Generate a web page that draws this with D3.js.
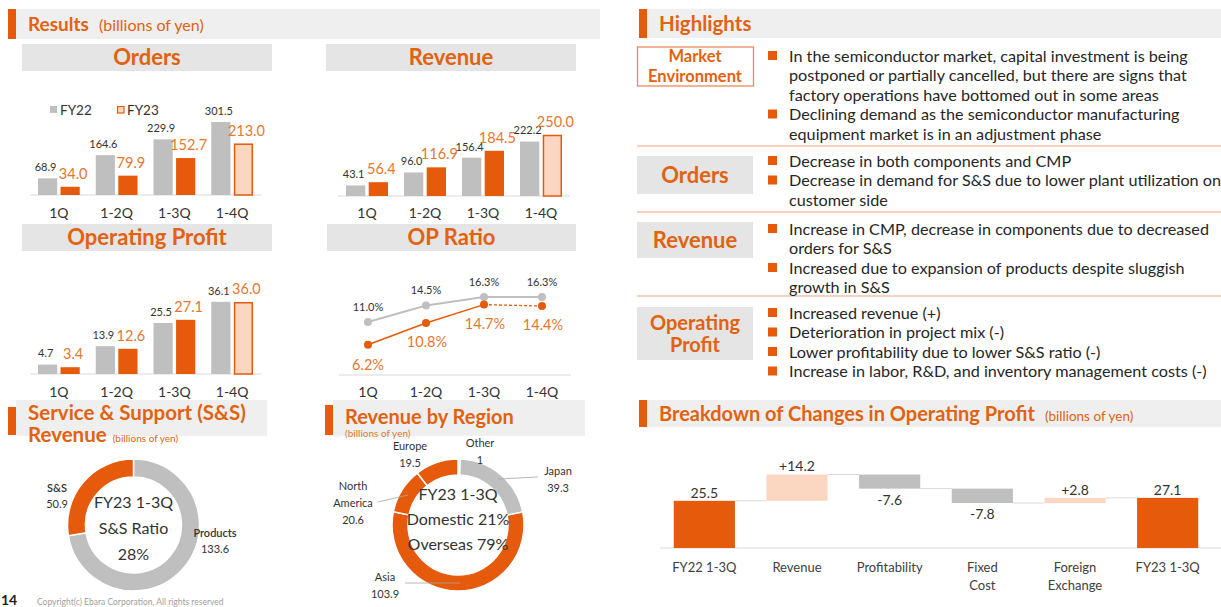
<!DOCTYPE html>
<html>
<head>
<meta charset="utf-8">
<title>Results</title>
<script src="https://cdn.jsdelivr.net/npm/d3@7"></script>
<style>
    body { margin: 0; background: #fff; }
    svg text { font-family: Lato, "Noto Sans", sans-serif; }
</style>
</head>
<body>
<svg id="chart" width="1221" height="607"></svg>
<script>
    // ---- data ----
    var quarters = ["1Q", "1-2Q", "1-3Q", "1-4Q"];
    var ordersFY22 = [68.9, 164.6, 229.9, 301.5];
    var ordersFY23 = [34.0, 79.9, 152.7, 213.0];
    var revenueFY22 = [43.1, 96.0, 156.4, 222.2];
    var revenueFY23 = [56.4, 116.9, 184.5, 250.0];
    var opFY22 = [4.7, 13.9, 25.5, 36.1];
    var opFY23 = [3.4, 12.6, 27.1, 36.0];
    var ratioFY22 = [11.0, 14.5, 16.3, 16.3];
    var ratioFY23 = [6.2, 10.8, 14.7, 14.4];
    var forecastIndex = 3;

    var ssNames = ["Products", "S&S"];
    var ssValues = [133.6, 50.9];

    var regionNames = ["Other", "Japan", "Asia", "North America", "Europe"];
    var regionValues = [1, 39.3, 103.9, 20.6, 19.5];

    var wfLabels = [["FY22 1-3Q"], ["Revenue"], ["Profitability"], ["Fixed", "Cost"], ["Foreign", "Exchange"], ["FY23 1-3Q"]];
    var wfValues = [25.5, 14.2, -7.6, -7.8, 2.8, 27.1];
    var wfKinds = ["total", "delta", "delta", "delta", "delta", "total"];

    var hlTitles = [["Market", "Environment"], ["Orders"], ["Revenue"], ["Operating", "Profit"]];
    var hlBullets = [
        [["In the semiconductor market, capital investment is being", "postponed or partially cancelled, but there are signs that", "factory operations have bottomed out in some areas"],
         ["Declining demand as the semiconductor manufacturing", "equipment market is in an adjustment phase"]],
        [["Decrease in both components and CMP"],
         ["Decrease in demand for S&S due to lower plant utilization on", "customer side"]],
        [["Increase in CMP, decrease in components due to decreased", "orders for S&S"],
         ["Increased due to expansion of products despite sluggish", "growth in S&S"]],
        [["Increased revenue (+)"], ["Deterioration in project mix (-)"], ["Lower profitability due to lower S&S ratio (-)"], ["Increase in labor, R&D, and inventory management costs (-)"]]
    ];

    // ---- colours ----
    var ORANGE = "#e65a0c";
    var ORANGE_TXT = "#e2620f";
    var ORANGE_LBL = "#e57730";
    var GRAY = "#bfbfbf";
    var PEACH = "#fbd7c2";
    var BAND = "#efefef";
    var BOX = "#e5e5e5";
    var DARK = "#333333";

    var svg = d3.select("#chart");

    function SectionHeader(x, y, w, h, title, size, sub, subSize) {
        svg.append("rect").attr("x", x).attr("y", y).attr("width", w).attr("height", h).attr("fill", BAND);
        svg.append("rect").attr("x", x - 8).attr("y", y).attr("width", 8).attr("height", h).attr("fill", ORANGE);
        var t = svg.append("text").attr("x", x + 12).attr("y", y + h / 2).attr("dy", "0.35em")
            .attr("font-size", size).attr("font-weight", "bold").attr("fill", ORANGE_TXT);
        t.append("tspan").text(title);
        if (sub) {
            t.append("tspan").attr("font-size", subSize).attr("font-weight", "normal").attr("dx", 10).text(sub);
        }
        return t;
    }

    function TitleBox(x, y, w, h, title) {
        svg.append("rect").attr("x", x).attr("y", y).attr("width", w).attr("height", h).attr("fill", BOX);
        svg.append("text").attr("x", x + w / 2).attr("y", y + h / 2).attr("dy", "0.36em")
            .attr("text-anchor", "middle").attr("font-size", 22).attr("font-weight", "bold")
            .attr("fill", ORANGE_TXT).text(title);
    }

    function BottomAxis(x, yBase, pad) {
        var ag = svg.append("g").attr("transform", "translate(0," + yBase + ")")
            .call(d3.axisBottom(x).tickSize(0).tickPadding(pad));
        ag.select(".domain").attr("stroke", "#d9d9d9").attr("d", "M" + (x.range()[0]) + ",0H" + x.range()[1]);
        ag.selectAll("text").attr("font-size", 14).attr("fill", DARK).attr("font-family", "Lato, sans-serif");
    }

    function BarPanel(opt) {
        var x = d3.scaleBand().domain(quarters).range(opt.xr);
        var inner = d3.scaleBand().domain(["FY22", "FY23"]).range([8, x.bandwidth() - 8]).paddingInner(0.15);
        var y = d3.scaleLinear().domain(opt.yd).range(opt.yr);
        BottomAxis(x, opt.yr[0], opt.pad);

        var g = svg.append("g");
        quarters.forEach(function(q, i) {
            var gx = x(q) + inner("FY22"), ox = x(q) + inner("FY23"), bw = inner.bandwidth();
            g.append("rect").attr("x", gx).attr("y", y(opt.a[i])).attr("width", bw)
                .attr("height", y(0) - y(opt.a[i])).attr("fill", GRAY);
            var fc = i === forecastIndex;
            g.append("rect").attr("x", fc ? ox + 0.75 : ox).attr("y", y(opt.b[i]) + (fc ? 0.75 : 0))
                .attr("width", fc ? bw - 1.5 : bw).attr("height", y(0) - y(opt.b[i]) - (fc ? 0.75 : 0))
                .attr("fill", fc ? PEACH : ORANGE).attr("stroke", fc ? ORANGE : "none").attr("stroke-width", 1.5);
            g.append("text").attr("x", gx + bw / 2 - 2).attr("y", y(opt.a[i]) - 11).attr("dy", "0.35em")
                .attr("text-anchor", "middle").attr("font-size", 11).attr("fill", DARK)
                .text(opt.a[i].toFixed(1));
            g.append("text").attr("x", ox + bw / 2 + 3).attr("y", y(opt.b[i]) - 13).attr("dy", "0.35em")
                .attr("text-anchor", "middle").attr("font-size", 14.5).attr("fill", ORANGE_LBL)
                .text(opt.b[i].toFixed(1));
        });
    }

    // ---- section bands first so axis labels sit on top ----
    SectionHeader(16, 9, 584, 30, "Results", 19, "(billions of yen)", 16);

    svg.append("rect").attr("x", 16).attr("y", 400).attr("width", 251).attr("height", 36).attr("fill", BAND);
    svg.append("rect").attr("x", 8).attr("y", 407).attr("width", 8).attr("height", 28).attr("fill", ORANGE);
    svg.append("rect").attr("x", 333).attr("y", 400).attr("width", 252).attr("height", 36).attr("fill", BAND);
    svg.append("rect").attr("x", 325).attr("y", 405).attr("width", 8).attr("height", 30).attr("fill", ORANGE);

    // ---- Results ----
    TitleBox(22, 44, 250, 27, "Orders");
    TitleBox(326, 44, 250, 27, "Revenue");
    TitleBox(22, 224, 250, 27, "Operating Profit");
    TitleBox(327, 224, 249, 27, "OP Ratio");

    // legend
    svg.append("rect").attr("x", 50).attr("y", 106).attr("width", 7).attr("height", 7).attr("fill", GRAY);
    svg.append("text").attr("x", 60).attr("y", 110).attr("dy", "0.35em").attr("font-size", 13.5).attr("fill", DARK).text("FY22");
    svg.append("rect").attr("x", 117.5).attr("y", 106.5).attr("width", 6.5).attr("height", 6.5)
        .attr("fill", PEACH).attr("stroke", ORANGE).attr("stroke-width", 1.2);
    svg.append("text").attr("x", 127).attr("y", 110).attr("dy", "0.35em").attr("font-size", 13.5).attr("fill", DARK).text("FY23");

    BarPanel({ xr: [30, 261], yd: [0, 300], yr: [195, 122.4], pad: 13, a: ordersFY22, b: ordersFY23 });
    BarPanel({ xr: [338, 570], yd: [0, 300], yr: [196, 122.5], pad: 12, a: revenueFY22, b: revenueFY23 });
    BarPanel({ xr: [30, 261], yd: [0, 40], yr: [374, 294], pad: 13, a: opFY22, b: opFY23 });

    // OP ratio lines
    (function() {
        var x = d3.scaleBand().domain(quarters).range([339, 571]);
        var y = d3.scaleLinear().domain([0, 20]).range([374, 279.6]);
        BottomAxis(x, 375, 12);
        var cx = function(d, i) { return x(quarters[i]) + x.bandwidth() / 2; };
        var line = d3.line().x(function(d, i) { return cx(d, i); }).y(function(d) { return y(d); });

        svg.append("path").attr("d", line(ratioFY22)).attr("fill", "none").attr("stroke", GRAY).attr("stroke-width", 2);
        svg.append("path").attr("d", line(ratioFY23.slice(0, 3))).attr("fill", "none").attr("stroke", ORANGE).attr("stroke-width", 1.5);
        var dashed = d3.line().x(function(d, i) { return cx(d, i + 2); }).y(function(d) { return y(d); });
        svg.append("path").attr("d", dashed(ratioFY23.slice(2))).attr("fill", "none").attr("stroke", ORANGE)
            .attr("stroke-width", 1.3).attr("stroke-dasharray", "3,2");

        ratioFY22.forEach(function(v, i) {
            svg.append("circle").attr("cx", cx(v, i)).attr("cy", y(v)).attr("r", 4).attr("fill", GRAY);
            svg.append("text").attr("x", cx(v, i)).attr("y", y(v) - 15).attr("dy", "0.35em").attr("text-anchor", "middle")
                .attr("font-size", 11).attr("fill", DARK).text(v.toFixed(1) + "%");
        });
        ratioFY23.forEach(function(v, i) {
            svg.append("circle").attr("cx", cx(v, i)).attr("cy", y(v)).attr("r", 4).attr("fill", ORANGE);
            svg.append("text").attr("x", cx(v, i) + (i === 0 ? 0 : 1)).attr("y", y(v) + (i === 0 ? 20 : 19)).attr("dy", "0.35em")
                .attr("text-anchor", "middle").attr("font-size", 14.5).attr("fill", ORANGE_LBL).text(v.toFixed(1) + "%");
        });
    })();

    // ---- S&S donut ----
    svg.append("text").attr("x", 28).attr("y", 413).attr("dy", "0.35em").attr("font-size", 20.5).attr("font-weight", "bold")
        .attr("fill", ORANGE_TXT).text("Service & Support (S&S)");
    var ssT = svg.append("text").attr("x", 28).attr("y", 435).attr("dy", "0.35em").attr("font-size", 20.5).attr("font-weight", "bold")
        .attr("fill", ORANGE_TXT);
    ssT.append("tspan").text("Revenue");
    ssT.append("tspan").attr("dx", 6).attr("font-size", 10).attr("font-weight", "normal").text("(billions of yen)");

    var pie = d3.pie().sort(null).value(function(d) { return d; });
    (function() {
        var arc = d3.arc().innerRadius(48).outerRadius(66);
        var g = svg.append("g").attr("transform", "translate(133.5,525)");
        g.selectAll("path").data(pie(ssValues)).enter().append("path")
            .attr("d", arc).attr("fill", function(d, i) { return i === 1 ? ORANGE : GRAY; })
            .attr("stroke", "#fff").attr("stroke-width", 1.5);
        ["FY23 1-3Q", "S&S Ratio", Math.round(ssValues[1] / d3.sum(ssValues) * 100) + "%"].forEach(function(t, i) {
            g.append("text").attr("x", 0).attr("y", -23 + i * 26).attr("dy", "0.35em").attr("text-anchor", "middle")
                .attr("font-size", 16).attr("fill", DARK).text(t);
        });
        var lab = [[57, 488], [215, 533]];
        [1, 0].forEach(function(k, j) {
            var p = lab[j];
            svg.append("text").attr("x", p[0]).attr("y", p[1]).attr("dy", "0.35em").attr("text-anchor", "middle")
                .attr("font-size", 11).attr("font-weight", 600).attr("fill", DARK).text(ssNames[k]);
            svg.append("text").attr("x", p[0]).attr("y", p[1] + 16).attr("dy", "0.35em").attr("text-anchor", "middle")
                .attr("font-size", 11).attr("fill", DARK).text(ssValues[k].toFixed(1));
        });
    })();

    // ---- Revenue by Region donut ----
    svg.append("text").attr("x", 345).attr("y", 417).attr("dy", "0.35em").attr("font-size", 20).attr("font-weight", "bold")
        .attr("fill", ORANGE_TXT).text("Revenue by Region");
    svg.append("text").attr("x", 345).attr("y", 433).attr("dy", "0.35em").attr("font-size", 10)
        .attr("fill", ORANGE_LBL).text("(billions of yen)");
    (function() {
        var arc = d3.arc().innerRadius(50).outerRadius(66);
        var g = svg.append("g").attr("transform", "translate(458,525)");
        var arcs = pie(regionValues);
        g.selectAll("path").data(arcs).enter().append("path")
            .attr("d", arc).attr("fill", function(d, i) { return i <= 1 ? GRAY : ORANGE; })
            .attr("stroke", "#fff").attr("stroke-width", 1.5);
        ["FY23 1-3Q", "Domestic 21%", "Overseas 79%"].forEach(function(t, i) {
            g.append("text").attr("x", 0).attr("y", -31 + i * 25).attr("dy", "0.35em").attr("text-anchor", "middle")
                .attr("font-size", 16).attr("fill", DARK).text(t);
        });
        // label anchors (layout) and leader lines
        var anchors = [
            { lines: ["Other"], x: 480, y: 443 },
            { lines: ["Japan"], x: 558, y: 471, lead: [[538, 477], [498, 479]] },
            { lines: ["Asia"], x: 385, y: 577, lead: [[405, 583], [460, 583]] },
            { lines: ["North", "America"], x: 353, y: 486, lead: [[378, 502], [408, 495]] },
            { lines: ["Europe"], x: 410, y: 446 }
        ];
        anchors.forEach(function(a, i) {
            a.lines.concat([String(regionValues[i])]).forEach(function(t, k) {
                svg.append("text").attr("x", a.x).attr("y", a.y + k * 17).attr("dy", "0.35em").attr("text-anchor", "middle")
                    .attr("font-size", 11).attr("font-family", "DejaVu Sans, sans-serif").attr("fill", DARK).text(t);
            });
            if (a.lead) {
                svg.append("path").attr("d", d3.line()(a.lead)).attr("stroke", "#a6a6a6").attr("stroke-width", 0.8).attr("fill", "none");
            }
        });
    })();

    // footer
    svg.append("text").attr("x", 1).attr("y", 605).attr("font-size", 14).attr("font-weight", "bold")
        .attr("font-family", "Liberation Sans, sans-serif").attr("fill", "#222").text("14");
    svg.append("text").attr("x", 37).attr("y", 605).attr("font-size", 8.5).attr("fill", "#a0a0a0")
        .text("Copyright(c) Ebara Corporation, All rights reserved");

    // ---- Highlights ----
    SectionHeader(647, 9, 574, 29, "Highlights", 20.5);
    var rowBox = [[47, 86], [156, 194], [222, 258], [307, 360]];
    var rowFirst = [56, 161, 229, 313];
    var seps = [146, 212, 296];
    seps.forEach(function(s) {
        svg.append("line").attr("x1", 637).attr("x2", 1221).attr("y1", s).attr("y2", s)
            .attr("stroke", "#efa37c").attr("stroke-width", 1.2);
    });
    hlTitles.forEach(function(title, r) {
        var b = rowBox[r];
        svg.append("rect").attr("x", r === 0 ? 637.5 : 637).attr("y", b[0]).attr("width", 116).attr("height", b[1] - b[0])
            .attr("fill", r === 0 ? "#fff" : BOX).attr("stroke", r === 0 ? "#ec8a5c" : "none").attr("stroke-width", 1.3);
        var mid = (b[0] + b[1]) / 2, lh = r === 0 ? 20 : 22, fs = r === 0 ? 16.5 : (r === 3 ? 20 : 22);
        title.forEach(function(t, k) {
            svg.append("text").attr("x", 695).attr("y", mid + (k - (title.length - 1) / 2) * lh).attr("dy", "0.36em")
                .attr("text-anchor", "middle").attr("font-size", fs).attr("font-weight", "bold").attr("fill", ORANGE_TXT).text(t);
        });
        var ly = rowFirst[r];
        hlBullets[r].forEach(function(lines) {
            svg.append("rect").attr("x", 768).attr("y", ly - 5).attr("width", 9).attr("height", 9).attr("fill", ORANGE);
            lines.forEach(function(t) {
                svg.append("text").attr("x", 789).attr("y", ly).attr("dy", "0.35em").attr("font-size", 16.2)
                    .attr("fill", "#262626").text(t);
                ly += 19.5;
            });
        });
    });

    // ---- Waterfall ----
    SectionHeader(647, 400, 574, 27, "Breakdown of Changes in Operating Profit", 20, "(billions of yen)", 13.5);
    (function() {
        var x = d3.scaleBand().domain(d3.range(wfValues.length)).range([658, 1214]).paddingInner(0.34).paddingOuter(0.17);
        var y = d3.scaleLinear().domain([0, 40]).range([548, 474]);
        svg.append("line").attr("x1", 660).attr("x2", 1221).attr("y1", 548).attr("y2", 548).attr("stroke", "#d9d9d9");
        var run = 0, prev = null;
        wfValues.forEach(function(v, i) {
            var lo, hi, fill;
            if (wfKinds[i] === "total") { lo = 0; hi = v; run = v; fill = ORANGE; }
            else { lo = Math.min(run, run + v); hi = Math.max(run, run + v); run = run + v; fill = v > 0 ? PEACH : GRAY; }
            var bx = x(i), bw = x.bandwidth();
            if (prev !== null) {
                svg.append("line").attr("x1", prev.x).attr("x2", bx).attr("y1", y(prev.level)).attr("y2", y(prev.level))
                    .attr("stroke", "#d9d9d9").attr("stroke-width", 1);
            }
            svg.append("rect").attr("x", bx).attr("y", y(hi)).attr("width", bw).attr("height", y(lo) - y(hi)).attr("fill", fill);
            var txt = wfKinds[i] === "total" ? v.toFixed(1) : (v > 0 ? "+" : "") + v.toFixed(1);
            var ty = v < 0 ? y(lo) + 11 : y(hi) - 8;
            svg.append("text").attr("x", bx + bw / 2).attr("y", ty).attr("dy", "0.35em").attr("text-anchor", "middle")
                .attr("font-size", 14).attr("fill", DARK).text(txt);
            wfLabels[i].forEach(function(t, k) {
                svg.append("text").attr("x", bx + bw / 2).attr("y", 567 + k * 18).attr("dy", "0.35em").attr("text-anchor", "middle")
                    .attr("font-size", 13).attr("fill", "#404040").text(t);
            });
            prev = { x: bx + bw, level: run };
        });
    })();
</script>
</body>
</html>
